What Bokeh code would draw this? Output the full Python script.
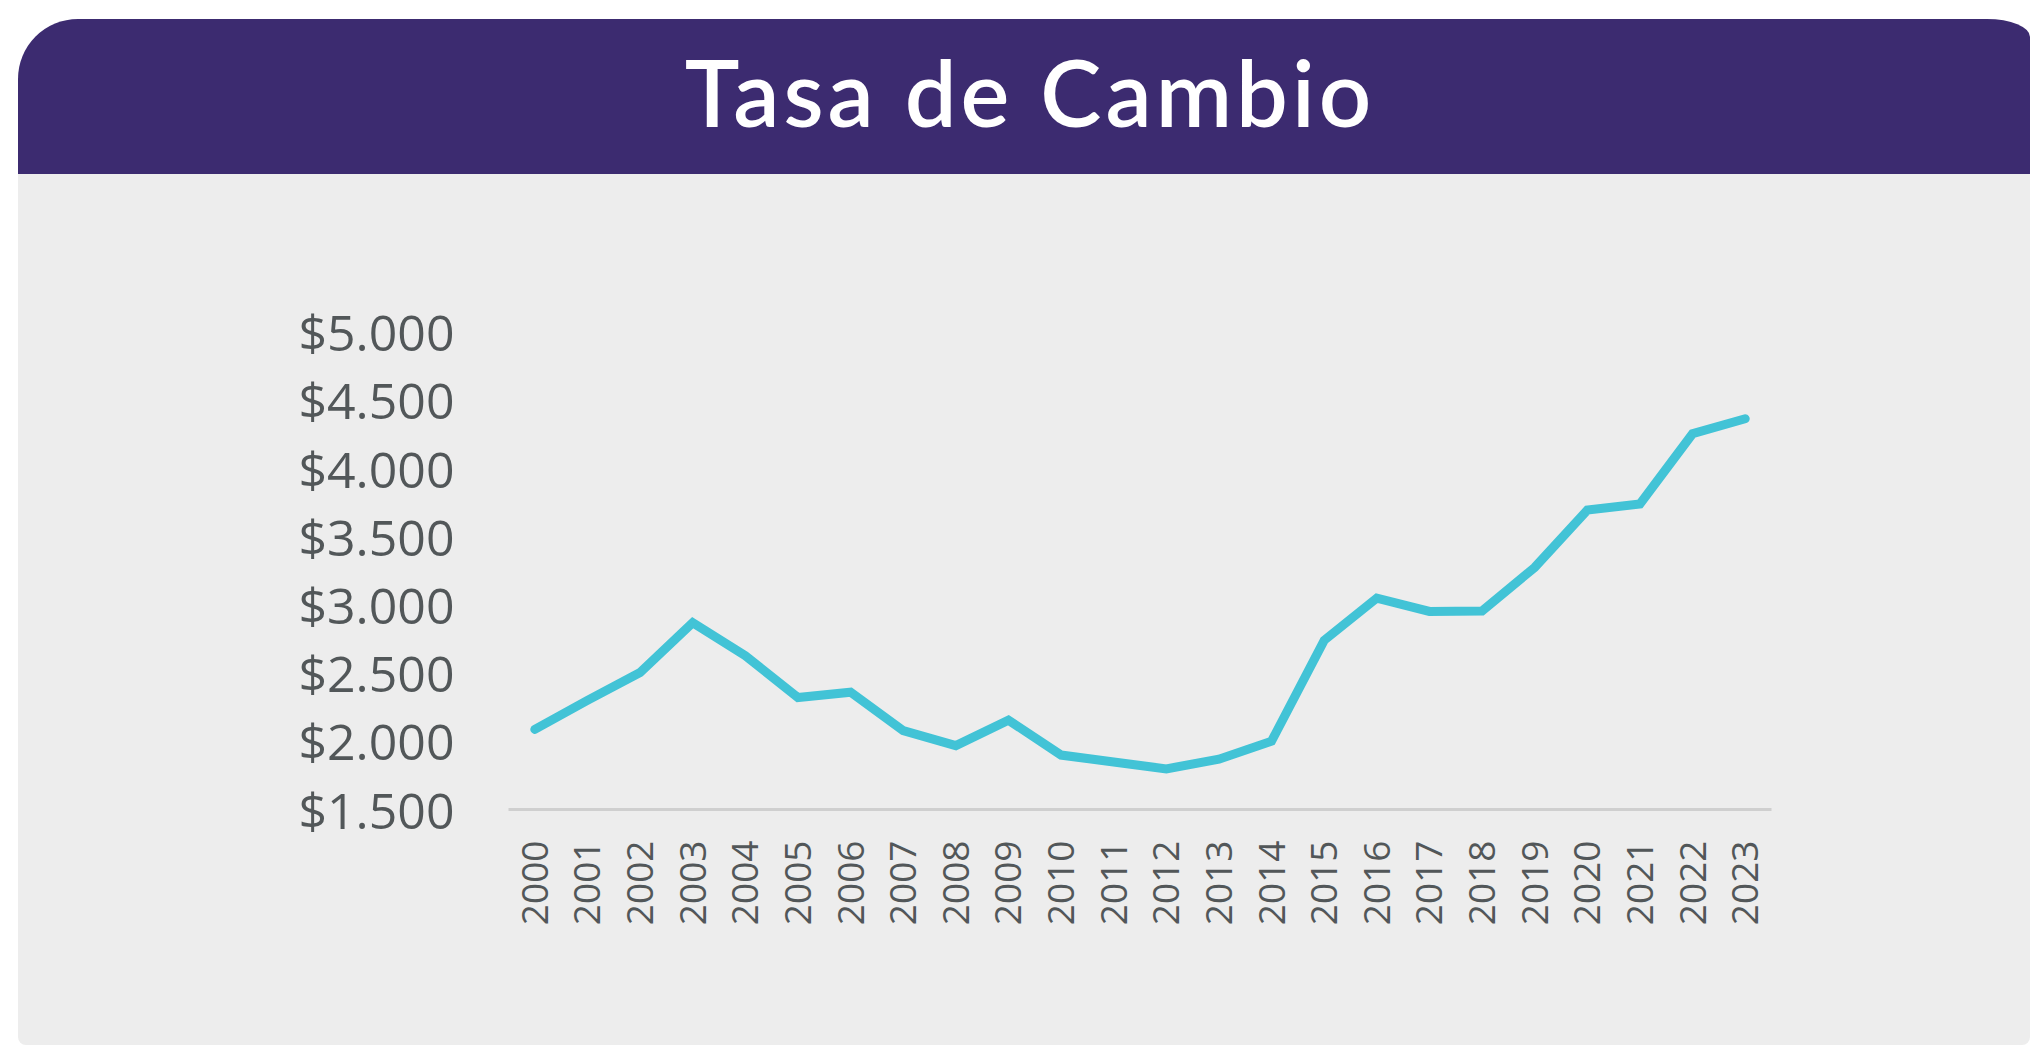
import math
from bokeh.plotting import figure
from bokeh.models import FixedTicker, Range1d, Div
from bokeh.layouts import column
from bokeh.embed import file_html
from bokeh.resources import INLINE

# ---- data ----
years = list(range(2000, 2024))
tasa = [2087, 2300, 2504, 2870, 2628, 2321, 2360, 2078, 1968, 2155, 1899, 1848,
        1798, 1869, 2001, 2740, 3050, 2952, 2956, 3275, 3695, 3740, 4255, 4365]
y_ticks = [1500, 2000, 2500, 3000, 3500, 4000, 4500, 5000]
y_tick_labels = ["$1.500", "$2.000", "$2.500", "$3.000", "$3.500", "$4.000", "$4.500", "$5.000"]
title_text = "Tasa de Cambio"

# ---- geometry (page px) ----
OX, OY = 18, 19            # panel origin
HEAD_H = 155               # purple header height
PW = 2030 - OX             # panel width
PH = 1045 - OY - HEAD_H    # chart body height
FL, FR, FT, FB = 508, 1771, 298, 809      # frame edges in page px
PX_PER_500 = 68.2
x0, x1 = years[0] - 0.5, years[-1] + 0.5
y0 = y_ticks[0]
y1 = y0 + (FB - FT) * 500 / PX_PER_500

PURPLE = "#3C2B70"
GRAY = "#EDEDED"
LINE = "#42C3D6"
TXT = "#525759"

header = Div(text=title_text, width=PW, height=HEAD_H, margin=0,
             styles={"background-color": PURPLE, "color": "white",
                     "font-family": "Lato", "font-weight": "600",
                     "font-size": "92px", "line-height": "145px",
                     "letter-spacing": "4px", "padding-left": "12px",
                     "box-sizing": "border-box",
                     "text-align": "center",
                     "border-radius": "60px 43px 0 0 / 60px 18px 0 0"})

BY = OY + HEAD_H  # page y of chart body top
p = figure(width=PW, height=PH, output_backend="svg", toolbar_location=None,
           x_range=Range1d(x0, x1), y_range=Range1d(y0, y1), margin=0,
           min_border_left=FL - OX, min_border_right=PW - (FR - OX),
           min_border_top=FT - BY, min_border_bottom=PH - (FB - BY),
           styles={"background-color": GRAY, "border-radius": "0 0 8px 8px",
                   "overflow": "hidden"})
p.border_fill_color = None
p.background_fill_color = GRAY
p.outline_line_color = None
p.grid.visible = False

p.line(years, tasa, line_color=LINE, line_width=9, line_cap="round", line_join="miter")

# y axis
ya = p.yaxis[0]
ya.ticker = FixedTicker(ticks=y_ticks)
ya.major_label_overrides = dict(zip(y_ticks, y_tick_labels))
ya.axis_line_color = None
ya.major_tick_line_color = None
ya.minor_tick_line_color = None
ya.major_label_standoff = 48
ya.major_label_text_font = "Open Sans"
ya.major_label_text_font_size = "50px"
ya.major_label_text_color = TXT

# x axis
xa = p.xaxis[0]
xa.ticker = FixedTicker(ticks=years)
xa.major_label_overrides = {y: str(y) for y in years}
xa.axis_line_color = "#CFCFCF"
xa.axis_line_width = 3
xa.major_tick_line_color = None
xa.minor_tick_line_color = None
xa.major_label_orientation = math.pi / 2
xa.major_label_standoff = 25
xa.major_label_text_font = "Open Sans"
xa.major_label_text_font_size = "37px"
xa.major_label_text_color = TXT

layout = column(header, p, spacing=0, margin=(OY, 0, 0, OX))

open("out.html", "w").write(file_html(layout, INLINE))
